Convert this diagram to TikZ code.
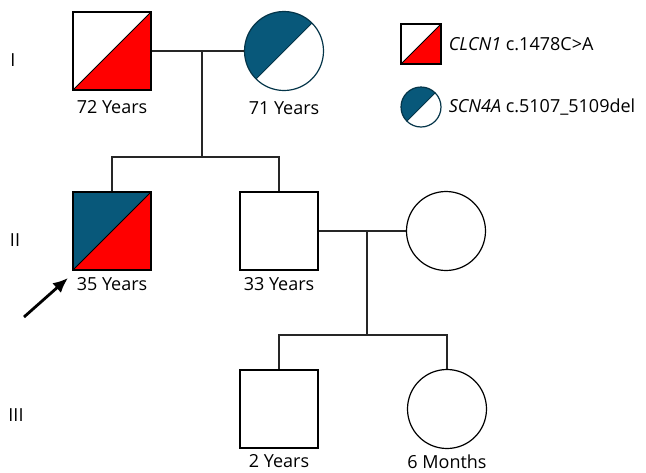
\documentclass[tikz,border=0pt]{standalone}
\usepackage{fontspec}
\setmainfont{Open Sans}
\usetikzlibrary{arrows.meta,positioning}

\definecolor{scnblue}{RGB}{8,88,122}
\definecolor{clcnred}{RGB}{255,0,0}

\tikzset{
  male/.style={draw, rectangle, minimum size=78pt, inner sep=0pt, line width=1.2pt},
  female/.style={draw, circle, minimum size=79pt, inner sep=0pt, line width=1.2pt},
  clcn/.style={path picture={
    \fill[clcnred] (path picture bounding box.south west) -- (path picture bounding box.south east)
      -- (path picture bounding box.north east) -- cycle;
    \draw[line width=0.8pt] (path picture bounding box.south west) -- (path picture bounding box.north east);}},
  scn/.style={path picture={
    \fill[scnblue] (path picture bounding box.south west) -- (path picture bounding box.north west)
      -- (path picture bounding box.north east) -- cycle;
    \draw[line width=0.8pt] (path picture bounding box.south west) -- (path picture bounding box.north east);}},
  clcnscn/.style={path picture={
    \fill[scnblue] (path picture bounding box.south west) -- (path picture bounding box.north west)
      -- (path picture bounding box.north east) -- cycle;
    \fill[clcnred] (path picture bounding box.south west) -- (path picture bounding box.south east)
      -- (path picture bounding box.north east) -- cycle;
    \draw[line width=0.8pt] (path picture bounding box.south west) -- (path picture bounding box.north east);}},
  age/.style={font=\fontsize{18}{22}\selectfont, inner sep=1pt},
  gen/.style={font=\fontsize{18}{22}\selectfont},
  link/.style={line width=1.2pt, black!85}
}

\begin{document}
\begin{tikzpicture}[x=1pt,y=-1pt]
\useasboundingbox (0,0) rectangle (646,472);

% Generations
\node[gen] (g1) at (13,60) {I};
\node[gen] (g2) at (15,240) {II};
\node[gen] (g3) at (16,415) {III};

% Generation I
\node[male, clcn] (I1) at (112,51) {};
\node[female, scn, draw=scnblue!60!black] (I2) at (284,51) {};
\node[age, below=9pt of I1] (aI1) {72 Years};
\node[age, below=9pt of I2] (aI2) {71 Years};

% Generation II
\node[male, clcnscn] (II1) at (112,231) {};
\node[male] (II2) at (279,231) {};
\node[female] (II3) at (446,231) {};
\node[age, below=6pt of II1] (aII1) {35 Years};
\node[age, below=6pt of II2] (aII2) {33 Years};

% Generation III
\node[male] (III1) at (279,409) {};
\node[female] (III2) at (447,409) {};
\node[age, below=5pt of III1] (aIII1) {2 Years};
\node[age, below=5pt of III2] (aIII2) {6 Months};

% Lines of descent
\coordinate (m1) at (202,51);
\coordinate (s1) at (202,157);
\coordinate (m2) at (367,231);
\coordinate (s2) at (367,335);
\draw[link] (I1.east) -- (I2.west);
\draw[link] (m1) -- (s1);
\draw[link] (II1.north) |- (s1) -| (II2.north);
\draw[link] (II2.east) -- (II3.west);
\draw[link] (m2) -- (s2);
\draw[link] (III1.north) |- (s2) -| (III2.north);

% Proband
\coordinate (ptail) at (24,317);
\coordinate (ptip) at (68,278);
\draw[line width=2.8pt, -{Latex[length=15pt,width=13pt]}] (ptail) -- (ptip);

% Legend
\node[male, clcn, minimum size=40pt] (leg1) at (421,44) {};
\node[female, scn, minimum size=40pt, draw=scnblue!60!black] (leg2) at (421,107) {};
\node[age, anchor=west, right=6pt of leg1] (legt1) {\textit{CLCN1} c.1478C>A};
\node[age, anchor=west, right=6pt of leg2] (legt2) {\textit{SCN4A} c.5107\_5109del};

\end{tikzpicture}
\end{document}
